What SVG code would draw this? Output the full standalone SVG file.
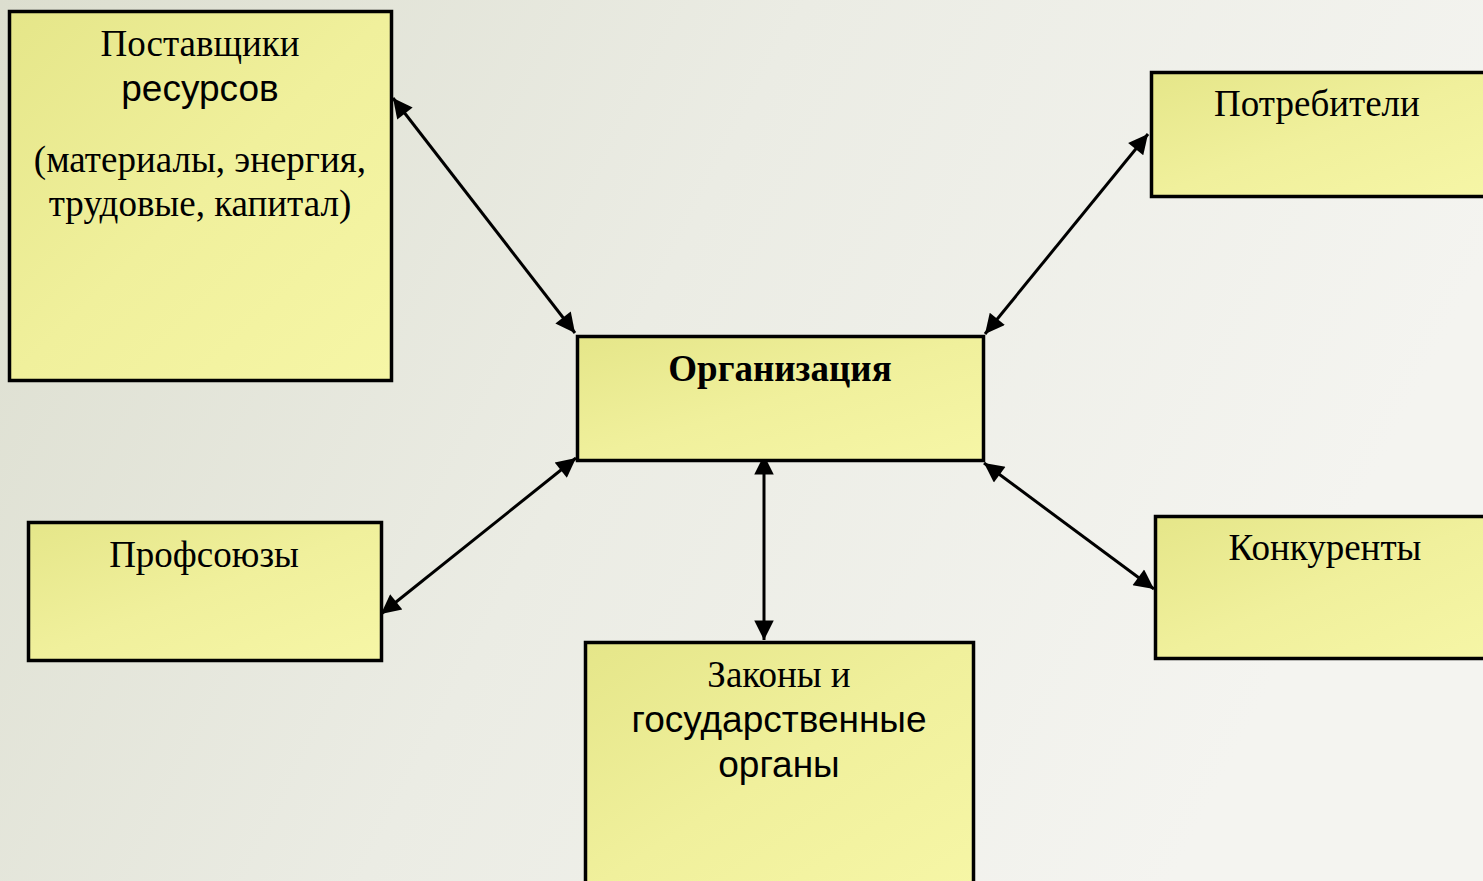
<svg xmlns="http://www.w3.org/2000/svg" width="1483" height="881" viewBox="0 0 1483 881">
<defs>
<linearGradient id="bg" x1="0" y1="0" x2="1" y2="0.3">
<stop offset="0" stop-color="#dcdecf"/>
<stop offset="0.5" stop-color="#ebece4"/>
<stop offset="1" stop-color="#f4f4f0"/>
</linearGradient>
<linearGradient id="box" x1="0" y1="0" x2="1" y2="1">
<stop offset="0" stop-color="#e5e689"/>
<stop offset="0.5" stop-color="#f0f09c"/>
<stop offset="1" stop-color="#f6f6a6"/>
</linearGradient>
<marker id="ah" viewBox="0 0 10 10" refX="10" refY="5" markerWidth="8" markerHeight="6.5" orient="auto-start-reverse" markerUnits="strokeWidth">
<path d="M0,0 L10,5 L0,10 z" fill="#000"/>
</marker>
<style>
.b{fill:url(#box);stroke:#000;stroke-width:3.5}
.t{font-family:"Liberation Serif",serif;font-size:37px;fill:#000;text-anchor:middle}
.a{font-family:"Liberation Sans",sans-serif;font-size:37px;fill:#000;text-anchor:middle}
.c{stroke:#000;stroke-width:3;fill:none;marker-start:url(#ah);marker-end:url(#ah)}
</style>
</defs>
<rect width="1483" height="881" fill="url(#bg)"/>
<g id="connectors">
<line class="c" x1="393" y1="98" x2="575" y2="333"/>
<line class="c" x1="1148" y1="134" x2="985" y2="334"/>
<line class="c" x1="576" y1="458" x2="381" y2="614"/>
<line class="c" x1="764" y1="455" x2="764" y2="640"/>
<line class="c" x1="984" y1="463" x2="1154" y2="589"/>
</g>
<g id="suppliers">
<rect class="b" x="9.5" y="11.5" width="382" height="369"/>
<text class="t" x="200" y="56">Поставщики</text>
<text class="a" x="200" y="101">ресурсов</text>
<text class="t" x="200" y="172">(материалы, энергия,</text>
<text class="t" x="200" y="216">трудовые, капитал)</text>
</g>
<g id="consumers">
<rect class="b" x="1151.5" y="72.5" width="340" height="124"/>
<text class="t" x="1317" y="116">Потребители</text>
</g>
<g id="organization">
<rect class="b" x="577.5" y="336.5" width="406" height="124"/>
<text class="t" x="780" y="381" font-weight="bold">Организация</text>
</g>
<g id="unions">
<rect class="b" x="28.5" y="522.5" width="353" height="138"/>
<text class="t" x="204" y="567">Профсоюзы</text>
</g>
<g id="competitors">
<rect class="b" x="1155.5" y="516.5" width="340" height="142"/>
<text class="t" x="1325" y="560">Конкуренты</text>
</g>
<g id="laws">
<rect class="b" x="585.5" y="642.5" width="388" height="250"/>
<text class="t" x="779" y="687">Законы и</text>
<text class="a" x="779" y="732">государственные</text>
<text class="a" x="779" y="777">органы</text>
</g>
</svg>
